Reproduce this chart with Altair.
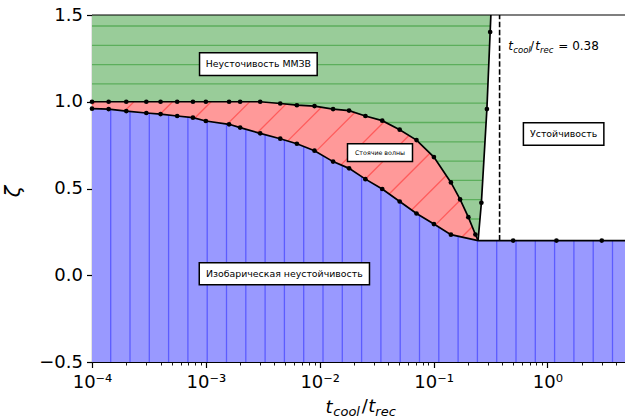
import altair as alt
import numpy as np
import pandas as pd

# ---------------- data ----------------
x_curve = [1e-4, 1.4e-4, 2e-4, 3e-4, 4e-4, 5.6e-4, 7.7e-4, 1e-3, 1.6e-3, 2e-3,
           3e-3, 4.5e-3, 6.3e-3, 9e-3, 0.0131, 0.0181, 0.0252, 0.0354, 0.0504,
           0.0708, 0.1007, 0.142, 0.171, 0.202, 0.233]
upper_zeta = [1.0, 1.0, 1.0, 1.0, 1.0, 1.0, 1.0, 1.0, 1.0, 1.0, 1.0, 0.99, 0.98,
              0.975, 0.958, 0.949, 0.918, 0.891, 0.839, 0.779, 0.681, 0.535,
              0.437, 0.335, 0.235]
lower_zeta = [0.96, 0.958, 0.946, 0.935, 0.929, 0.918, 0.908, 0.889, 0.870, 0.851,
              0.818, 0.787, 0.758, 0.718, 0.655, 0.616, 0.554, 0.497, 0.425,
              0.356, 0.295, 0.234]
cusp_x = 0.246
cusp_zeta = 0.2
vline_x = [0.246, 0.263, 0.294, 0.314, 0.3186]
vline_zeta = [0.2, 0.418, 0.958, 1.402, 1.5]
vline_dot = [False, True, True, True, False]
stable_x = [0.5, 1.2, 3.0]
stable_zeta = [0.2, 0.2, 0.2]
crit_ratio = 0.38
x_min, x_max = 1e-4, 4.8
y_min, y_max = -0.5, 1.5
y_ticks = [-0.5, 0.0, 0.5, 1.0, 1.5]

ann_text = ["Неусточивость ММЗВ", "Стоячие волны", "Устойчивость",
            "Изобарическая неустойчивость"]
ann_x0 = [8.8e-4, 0.01754, 0.615, 8.75e-4]
ann_x1 = [9.5e-3, 0.0653, 3.13, 0.02736]
ann_y0 = [1.151, 0.656, 0.749, -0.055]
ann_y1 = [1.283, 0.758, 0.879, 0.072]
ann_size = [9.4, 6.3, 9.4, 9.4]

x_major_labels = {-4: "10⁻⁴", -3: "10⁻³", -2: "10⁻²", -1: "10⁻¹", 0: "10⁰"}

# ---------------- layout / style ----------------
W, H = 533, 347
FONT = "DejaVu Sans"
GREEN_FILL, GREEN_HATCH = "#99cc99", "#5cae5c"
RED_FILL, RED_HATCH = "#ff9999", "#ff5c5c"
BLUE_FILL, BLUE_HATCH = "#9999ff", "#5c5cff"
HATCH_STEP = 19.3
DIAG_STEP = 38.6

u_min, u_max = np.log10(x_min), np.log10(x_max)
pxdec = W / (u_max - u_min)


def p2u(p):
    return u_min + p / pxdec


def q2v(q):
    return y_max - q * (y_max - y_min) / H


# ---------------- derived tables ----------------
up_x = x_curve + [cusp_x]
up_z = upper_zeta + [cusp_zeta]
lo_x = x_curve[:len(lower_zeta)] + [cusp_x]
lo_z = lower_zeta + [cusp_zeta]
bl_x = lo_x + stable_x + [x_max]
bl_z = lo_z + stable_zeta + [cusp_zeta]

df_green = pd.DataFrame({"x": vline_x, "y": vline_zeta, "x2": x_min})
df_red = pd.DataFrame({"x": up_x, "y": up_z, "y2": y_min})
df_blue = pd.DataFrame({"x": bl_x, "y": bl_z, "y2": y_min})
df_upper = pd.DataFrame({"x": up_x, "y": up_z})
df_lower = pd.DataFrame({"x": bl_x, "y": bl_z})
df_vline = pd.DataFrame({"x": vline_x, "y": vline_zeta})

dots_x = x_curve + x_curve[:len(lower_zeta)] + \
    [vx for vx, d in zip(vline_x, vline_dot) if d] + stable_x
dots_y = upper_zeta + lower_zeta + \
    [vz for vz, d in zip(vline_zeta, vline_dot) if d] + stable_zeta
df_dots = pd.DataFrame({"x": dots_x, "y": dots_y})

# hatching (decoration), clipped to each region
bx = np.log10(bl_x)
blue_h = []
p = 18.7
while p < W:
    u = p2u(p)
    blue_h.append({"x": 10 ** u, "y": y_min, "y2": float(np.interp(u, bx, bl_z))})
    p += HATCH_STEP
df_blue_h = pd.DataFrame(blue_h)

green_h = []
q = 11.0
while q < H:
    v = q2v(q)
    if v > cusp_zeta:
        ur = float(np.interp(v, vline_zeta, np.log10(vline_x)))
        green_h.append({"x": x_min, "x2": 10 ** ur, "y": v})
    q += HATCH_STEP
df_green_h = pd.DataFrame(green_h)

red_h = []
p_cusp = (np.log10(cusp_x) - u_min) * pxdec
ps = np.linspace(0, p_cusp, 4000)
us = p2u(ps)
upi = np.interp(us, np.log10(up_x), up_z)
loi = np.interp(us, np.log10(lo_x), lo_z)
for k in range(-10, 30):
    c = 12.9 + DIAG_STEP * k
    vs = q2v(c - ps)
    m = (vs <= upi) & (vs >= loi)
    if m.any():
        idx = np.where(m)[0]
        i0, i1 = idx[0], idx[-1]
        red_h.append({"x": 10 ** us[i0], "y": vs[i0],
                      "x2": 10 ** us[i1], "y2": vs[i1]})
df_red_h = pd.DataFrame(red_h)

df_ann = pd.DataFrame({
    "text": ann_text, "x0": ann_x0, "x1": ann_x1, "y0": ann_y0, "y1": ann_y1,
    "size": ann_size,
})
df_ann["xc"] = np.sqrt(df_ann["x0"] * df_ann["x1"])
df_ann["yc"] = (df_ann["y0"] + df_ann["y1"]) / 2

# ---------------- scales / axes ----------------
xscale = alt.Scale(type="log", domain=[x_min, x_max], nice=False)
yscale = alt.Scale(domain=[y_min, y_max], nice=False)

x_ticks = []
for e in range(-4, 1):
    for m_ in range(1, 10):
        val = m_ * 10.0 ** e
        if val <= x_max:
            x_ticks.append(val)

is_major = "abs(log(datum.value)/LN10 - round(log(datum.value)/LN10)) < 0.001"
lab = "''"
for e in sorted(x_major_labels):
    lab = f"round(log(datum.value)/LN10) == {e} ? '{x_major_labels[e]}' : " + lab
label_expr = f"{is_major} ? ({lab}) : ''"

# x title: first glyph "t" is the axis title; its subscripts are text marks
xaxis = alt.Axis(
    values=x_ticks, labelExpr=label_expr,
    title="t", titleFont=FONT, titleFontSize=18, titleFontStyle="italic",
    titleFontWeight="normal", titleColor="black", titleAlign="left",
    titleBaseline="alphabetic", titleX=325 - 92, titleY=412 - 15 - H, titleAnchor="start",
    tickSize={"condition": {"test": is_major, "value": 5.5}, "value": 3},
    tickWidth={"condition": {"test": is_major, "value": 1.2}, "value": 0.9},
    labelPadding=6, labelOverlap=False, labelFlush=False, grid=False,
)
yaxis = alt.Axis(
    values=y_ticks, format=".1f",
    title="ζ", titleFont=FONT, titleFontSize=21, titleFontStyle="italic",
    titleFontWeight="normal", titleColor="black", titleAngle=270,
    titleAlign="center", titleBaseline="middle", titleX=13 - 92, titleY=191 - 15,
    tickSize=5.5, tickWidth=1.2, labelPadding=4, grid=False,
)


def X(f="x"):
    return alt.X(f"{f}:Q", scale=xscale, axis=xaxis)


def Y(f="y"):
    return alt.Y(f"{f}:Q", scale=yscale, axis=yaxis)


# ---------------- layers ----------------
green = alt.Chart(df_green).mark_area(orient="horizontal", color=GREEN_FILL, opacity=1).encode(
    x=X("x"), x2="x2", y=Y("y"))
green_h = alt.Chart(df_green_h).mark_rule(color=GREEN_HATCH, strokeWidth=1.3).encode(
    x=X("x"), x2="x2", y=Y("y"))
red = alt.Chart(df_red).mark_area(orient="vertical", color=RED_FILL, opacity=1).encode(
    x=X("x"), y=Y("y"), y2="y2")
red_h = alt.Chart(df_red_h).mark_rule(color=RED_HATCH, strokeWidth=1.3).encode(
    x=X("x"), x2="x2", y=Y("y"), y2="y2")
blue = alt.Chart(df_blue).mark_area(orient="vertical", color=BLUE_FILL, opacity=1).encode(
    x=X("x"), y=Y("y"), y2="y2")
blue_h = alt.Chart(df_blue_h).mark_rule(color=BLUE_HATCH, strokeWidth=1.3).encode(
    x=X("x"), y=Y("y"), y2="y2")

line_upper = alt.Chart(df_upper).mark_line(color="black", strokeWidth=1.7).encode(
    x=X("x"), y=Y("y"))
line_lower = alt.Chart(df_lower).mark_line(color="black", strokeWidth=1.7).encode(
    x=X("x"), y=Y("y"))
line_v = alt.Chart(df_vline).mark_line(color="black", strokeWidth=1.7).encode(
    x=X("x"), y=Y("y"), order="y:Q")
dots = alt.Chart(df_dots).mark_circle(color="black", size=22, opacity=1).encode(
    x=X("x"), y=Y("y"))

df_crit = pd.DataFrame({"x": [crit_ratio], "y": [cusp_zeta], "y2": [y_max]})
dashed = alt.Chart(df_crit).mark_rule(color="black", strokeWidth=1.6, strokeDash=[5.5, 2.4]).encode(
    x=X("x"), y=Y("y"), y2="y2")

df_top = pd.DataFrame({"x": [x_min], "x2": [x_max], "y": [y_max]})
top_border = alt.Chart(df_top).mark_rule(color="black", strokeWidth=1.2).encode(
    x=X("x"), x2="x2", y=Y("y"))

df_boxes = df_ann.rename(columns={"x0": "x", "y0": "y"})
boxes = alt.Chart(df_boxes).mark_rect(fill="white", stroke="black", strokeWidth=1.5).encode(
    x=X("x"), x2="x1", y=Y("y"), y2="y1")
df_btext = df_ann.rename(columns={"xc": "x", "yc": "y"})[["x", "y", "text", "size"]]
box_text = alt.Chart(df_btext).mark_text(font=FONT, color="black", align="center",
                                         baseline="middle").encode(
    x=X("x"), y=Y("y"), text="text:N",
    size=alt.Size("size:Q", scale=None, legend=None))


def txt(s, px, py, size, italic=False):
    kw = dict(text=s, font=FONT, fontSize=size, color="black", align="left",
              baseline="alphabetic")
    if italic:
        kw["fontStyle"] = "italic"
    return alt.Chart(df_top).mark_text(**kw).encode(
        x=alt.value(px - 92), y=alt.value(py - 15))


# subscripts of the x title and the in-plot annotation, built from pieces
labels = [
    txt("cool", 333.3, 416, 13, True),
    txt("/", 361.7, 412, 18), txt("t", 368.3, 412, 18, True),
    txt("rec", 375.3, 416, 13, True),
    txt("t", 508.3, 50, 12, True), txt("cool", 513.3, 52.5, 8.5, True),
    txt("/", 530, 50, 12), txt("t", 535.3, 50, 12, True),
    txt("rec", 540, 52.5, 8.5, True), txt("= 0.38", 558.3, 50, 12),
]

chart = alt.layer(
    green, green_h, red, red_h, blue, blue_h, top_border,
    line_upper, line_lower, line_v, dashed, dots, boxes, box_text, *labels
).properties(
    width=W, height=H,
    padding={"left": 92, "top": 15, "right": 0, "bottom": 56},
    autosize=alt.AutoSizeParams(type="none"),
).configure_view(strokeWidth=0).configure_axis(
    labelFont=FONT, labelFontSize=18, labelColor="black", tickColor="black",
    domainColor="black", domainWidth=1.2,
)

chart.save("out.html", embed_options={"renderer": "svg", "actions": False})
